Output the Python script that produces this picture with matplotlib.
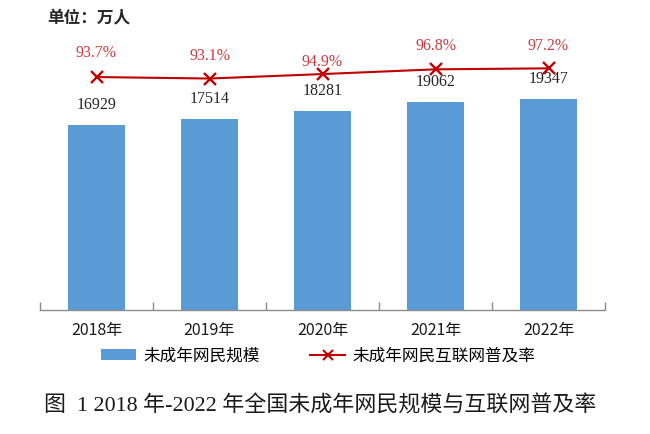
import matplotlib
matplotlib.use("Agg")
import matplotlib.pyplot as plt
from matplotlib.lines import Line2D
from matplotlib.patches import Patch

years = ["2018年", "2019年", "2020年", "2021年", "2022年"]
users = [16929, 17514, 18281, 19062, 19347]          # 未成年网民规模（万人）
rate = [93.7, 93.1, 94.9, 96.8, 97.2]                # 互联网普及率（%）

# label offsets above the markers (pixels), 2020 label sits lower in the original
rate_label_dy = [24, 23, 12, 23, 22]

CJK = ["Noto Sans CJK SC", "DejaVu Sans"]
SERIF_CJK = ["Liberation Serif", "Noto Sans CJK SC"]
plt.rcParams["font.family"] = CJK

BLUE = "#5B9BD5"
RED = "#C00000"
RED_TXT = "#D0393F"

fig = plt.figure(figsize=(6.5, 4.34), dpi=100)
ax = fig.add_axes([40 / 650, 1 - 310 / 434, 565 / 650, 270 / 434])
x = list(range(len(years)))

ax.bar(x, users, width=0.5, color=BLUE, zorder=2)
ax.set_xlim(-0.5, len(years) - 0.5)
ax.set_ylim(0, 24760)
for xi, v in zip(x, users):
    ax.annotate(str(v), (xi, v), xytext=(0, 20), textcoords="offset pixels",
                ha="center", va="center", fontsize=11.5, color="#262626",
                family=SERIF_CJK)

for s in ["top", "left", "right"]:
    ax.spines[s].set_visible(False)
ax.spines["bottom"].set_color("#8c8c8c")
ax.spines["bottom"].set_linewidth(1.0)
ax.set_yticks([])
ax.set_xticks(x)
ax.set_xticklabels(years, fontsize=11.5, color="#1a1a1a")
ax.tick_params(axis="x", which="major", length=0, pad=9)
ax.set_xticks([i - 0.5 for i in range(len(years) + 1)], minor=True)
ax.tick_params(axis="x", which="minor", direction="in", length=6,
               color="#8c8c8c", width=1.0)

ax2 = ax.twinx()
ax2.set_ylim(0, 108.6)
ax2.set_yticks([])
for s in ["top", "left", "right", "bottom"]:
    ax2.spines[s].set_visible(False)
ax2.plot(x, rate, color=RED, linewidth=1.5, marker="x", markersize=8,
         markeredgewidth=1.7, zorder=3)
for xi, v, dy in zip(x, rate, rate_label_dy):
    ax2.annotate(f"{v}%", (xi, v), xytext=(0, dy), textcoords="offset pixels",
                 ha="center", va="center", fontsize=11.5, color=RED_TXT,
                 family=SERIF_CJK)

handles = [Patch(facecolor=BLUE, edgecolor="none"),
           Line2D([], [], color=RED, linewidth=1.5, marker="x", markersize=7,
                  markeredgewidth=1.5)]
fig.legend(handles, ["未成年网民规模", "未成年网民互联网普及率"],
           loc="center", bbox_to_anchor=(318.5 / 650, 1 - 356 / 434), ncol=2,
           frameon=False, fontsize=12, handlelength=2.1, handletextpad=0.45,
           columnspacing=3.0, handleheight=0.6)

fig.text(47 / 650, 1 - 18 / 434, "单位：万人", fontsize=12, fontweight="bold",
         ha="left", va="center", color="#262626")

fig.text(44 / 650, 1 - 406 / 434, "图  1 2018 年-2022 年全国未成年网民规模与互联网普及率",
         fontsize=15.8, ha="left", va="center", color="#1a1a1a", family=SERIF_CJK)

fig.savefig("out.png", dpi=100)
